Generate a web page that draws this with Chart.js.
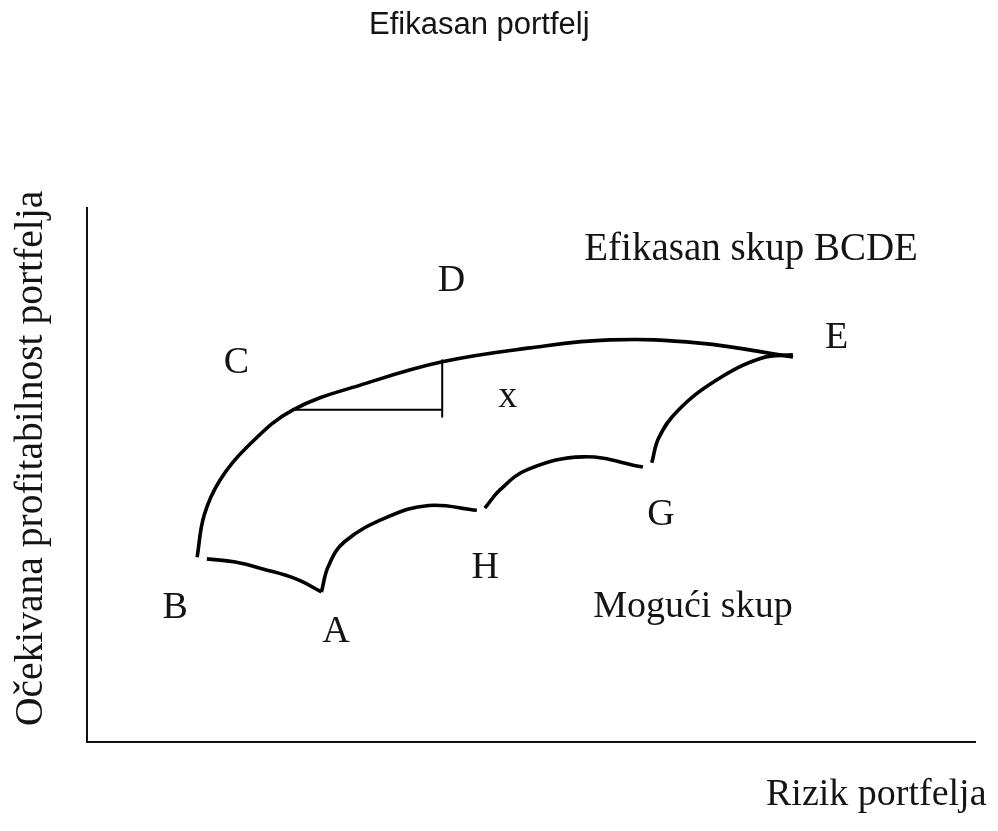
<!DOCTYPE html>
<html>
<head>
<meta charset="utf-8">
<script src="https://cdn.jsdelivr.net/npm/chart.js@4/dist/chart.umd.min.js"></script>
<style>
  html, body { margin: 0; padding: 0; background: #ffffff; }
  #wrap { width: 998px; height: 831px; }
</style>
</head>
<body>
<div id="wrap"><canvas id="c" width="998" height="831"></canvas></div>
<script>
// ---- data (axis units: 0..100 on both axes) ----
const chartTitle = 'Efikasan portfelj';
const xAxisTitle = 'Rizik portfelja';
const yAxisTitle = 'Očekivana profitabilnost portfelja';

// Efficient frontier B - C - D - E
const frontierX = [12.4, 13.2, 15.0, 18.0, 23.2, 31.5, 40.0, 49.9, 58.9, 69.0, 79.5];
const frontierY = [34.6, 42.5, 49.1, 55.2, 62.2, 67.2, 71.2, 73.8, 75.3, 74.7, 72.1];

// Lower boundary of the feasible set: B - A
const baX = [13.5, 16.7, 19.8, 23.6, 26.4];
const baY = [34.3, 33.7, 32.4, 30.5, 28.1];
// A - H
const ahX = [26.4, 27.2, 29.0, 33.8, 38.5, 43.9];
const ahY = [28.1, 33.0, 37.5, 42.1, 44.3, 43.4];
// H - G
const hgX = [44.8, 46.5, 49.6, 55.9, 62.6];
const hgY = [43.8, 47.2, 51.0, 53.4, 51.5];
// G - E
const geX = [63.6, 64.4, 66.5, 70.9, 76.0, 79.5];
const geY = [52.3, 57.0, 62.0, 67.8, 71.9, 72.5];

// Helper lines near point x
const horizX = [23.2, 40.0];
const horizY = [62.2, 62.2];
const vertX = [40.0, 40.0];
const vertY = [71.5, 60.9];

// Point / region labels (anchor = left end of text baseline, in axis units)
const labelText = ['Efikasan skup BCDE', 'D', 'E', 'C', 'x', 'G', 'H', 'Mogući skup', 'B', 'A'];
const labelX = [56.0, 39.5, 83.1, 15.4, 46.3, 63.1, 43.3, 57.0, 8.5, 26.5];
const labelY = [90.3, 84.5, 73.8, 69.1, 62.7, 40.6, 30.7, 23.4, 23.2, 18.7];

// ---- build ----
function pts(xs, ys) { return xs.map((x, i) => ({ x: x, y: ys[i] })); }

const SERIF = '"Liberation Serif", "Times New Roman", serif';
const SANS = '"Liberation Sans", Arial, sans-serif';
const INK = '#141414';

function curve(xs, ys, w, t) {
  return {
    data: pts(xs, ys),
    showLine: true,
    borderColor: '#000000',
    borderWidth: w,
    pointRadius: 0,
    pointHoverRadius: 0,
    fill: false,
    tension: t,
    borderCapStyle: 'butt',
    borderJoinStyle: 'round'
  };
}

const textPlugin = {
  id: 'textPlugin',
  afterDraw(chart) {
    const ctx = chart.ctx;
    const xs = chart.scales.x, ys = chart.scales.y;
    ctx.save();
    ctx.fillStyle = INK;
    ctx.textBaseline = 'alphabetic';
    ctx.textAlign = 'left';

    // chart title
    ctx.font = '31px ' + SANS;
    ctx.fillText(chartTitle, 369, 34);

    // annotation labels
    for (let i = 0; i < labelText.length; i++) {
      const size = i === 0 ? 39 : 38;
      ctx.font = size + 'px ' + SERIF;
      ctx.fillText(labelText[i], xs.getPixelForValue(labelX[i]), ys.getPixelForValue(labelY[i]));
    }

    // x axis title
    ctx.font = '38px ' + SERIF;
    ctx.fillText(xAxisTitle, 766, 805);

    // y axis title (rotated)
    ctx.save();
    ctx.translate(42, 726);
    ctx.rotate(-Math.PI / 2);
    ctx.font = '39.5px ' + SERIF;
    ctx.fillText(yAxisTitle, 0, 0);
    ctx.restore();

    ctx.restore();
  }
};

const axisOpts = {
  type: 'linear', min: 0, max: 100,
  ticks: { display: false, padding: 0 },
  grid: { display: false, drawTicks: false, tickLength: 0 },
  border: { display: true, color: '#111111', width: 2 }
};

new Chart(document.getElementById('c'), {
  type: 'scatter',
  data: {
    datasets: [
      curve(frontierX, frontierY, 3.6, 0.4),
      curve(baX, baY, 3.6, 0.4),
      curve(ahX, ahY, 3.6, 0.4),
      curve(hgX, hgY, 3.6, 0.4),
      curve(geX, geY, 3.6, 0.4),
      curve(horizX, horizY, 2, 0),
      curve(vertX, vertY, 2, 0)
    ]
  },
  options: {
    responsive: false,
    animation: false,
    devicePixelRatio: 1,
    layout: { padding: { left: 87, right: 23, top: 208, bottom: 89 } },
    plugins: {
      legend: { display: false },
      title: { display: false },
      tooltip: { enabled: false }
    },
    scales: {
      x: Object.assign({}, axisOpts),
      y: Object.assign({}, axisOpts)
    }
  },
  plugins: [textPlugin]
});
</script>
</body>
</html>
